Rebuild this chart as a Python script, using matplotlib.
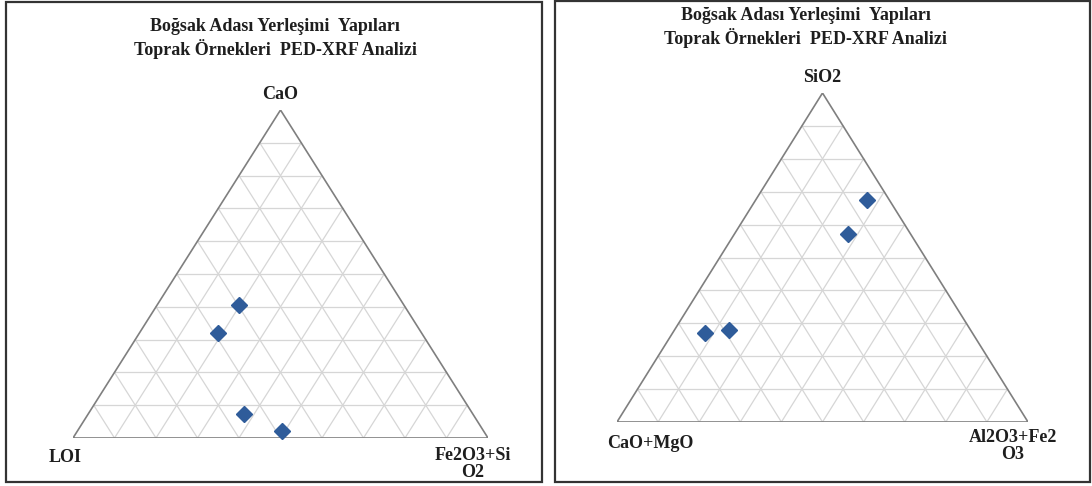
import matplotlib.pyplot as plt
from matplotlib.patches import Rectangle

# sol panel: CaO - LOI - Fe2O3+SiO2 (%)
sol_cao = [40.5, 32.0, 7.3, 2.1]
sol_fs = [19.8, 18.9, 37.5, 49.3]
sol_loi = [39.7, 49.1, 55.2, 48.6]

# sag panel: SiO2 - CaO+MgO - Al2O3+Fe2O3 (%)
sag_sio2 = [67.5, 57.1, 27.0, 28.0]
sag_af = [27.0, 27.6, 8.0, 13.2]
sag_cm = [5.5, 15.3, 65.0, 58.8]

baslik = "Boğsak Adası Yerleşimi  Yapıları\nToprak Örnekleri  PED-XRF Analizi"

W, H = 1092, 486
fig = plt.figure(figsize=(W / 100, H / 100), dpi=100)
fig.patch.set_facecolor("white")

yazi = dict(family="Liberation Serif", fontweight="bold", color="#1e1e1e")
mavi = "#2F5C9A"
fs = 13


def ternary(ust, sag):
    # ust: tepe bileseni, sag: sag alt kose bileseni (0-100)
    x = [(s + u / 2) / 100 for u, s in zip(ust, sag)]
    y = [u / 100 for u in ust]
    return x, y


def ucgen_ciz(ax):
    for i in range(1, 10):
        t = i / 10
        kw = dict(color="#d6d6d6", lw=0.9, zorder=1)
        ax.plot([t / 2, 1 - t / 2], [t, t], **kw)
        ax.plot([t, t + (1 - t) / 2], [0, 1 - t], **kw)
        ax.plot([1 - t, (1 - t) / 2], [0, 1 - t], **kw)
    ax.plot([0, 1, 0.5, 0], [0, 0, 1, 0], color="#7f7f7f", lw=1.2, zorder=2)
    ax.set_xlim(0, 1)
    ax.set_ylim(0, 1)
    ax.axis("off")


def eksen(px):
    # px: ucgen sinirlari piksel olarak (sol, ust, sag, alt)
    l, t, r, b = px
    return fig.add_axes([l / W, (H - b) / H, (r - l) / W, (b - t) / H])


# cerceveler
arka = fig.add_axes([0, 0, 1, 1])
arka.set_xlim(0, W)
arka.set_ylim(H, 0)
arka.axis("off")
arka.add_patch(Rectangle((6, 2), 536, 480, fill=False, ec="#333333", lw=1.6))
arka.add_patch(Rectangle((555, 1), 535, 481, fill=False, ec="#333333", lw=1.6))

# sol grafik
ax1 = eksen((73, 110, 488, 438))
ucgen_ciz(ax1)
x, y = ternary(sol_cao, sol_fs)
ax1.plot(x, y, ls="none", marker="D", ms=8.5, color=mavi, zorder=3, clip_on=False)
fig.text(275 / W, 1 - 38.5 / H, baslik, ha="center", va="center", fontsize=fs,
         linespacing=1.2, **yazi)
ax1.text(0.5, 1.046, "CaO", ha="center", va="center", fontsize=fs, **yazi)
ax1.text(-0.02, -0.058, "LOI", ha="center", va="center", fontsize=fs, **yazi)
ax1.text(0.964, -0.08, "Fe2O3+Si\nO2", ha="center", va="center", fontsize=fs,
         linespacing=1.0, **yazi)

# sag grafik
ax2 = eksen((617, 93, 1028, 422))
ucgen_ciz(ax2)
x, y = ternary(sag_sio2, sag_af)
ax2.plot(x, y, ls="none", marker="D", ms=8.5, color=mavi, zorder=3, clip_on=False)
fig.text(806 / W, 1 - 27.5 / H, baslik, ha="center", va="center", fontsize=fs,
         linespacing=1.2, **yazi)
ax2.text(0.5, 1.046, "SiO2", ha="center", va="center", fontsize=fs, **yazi)
ax2.text(0.08, -0.064, "CaO+MgO", ha="center", va="center", fontsize=fs, **yazi)
ax2.text(0.963, -0.072, "Al2O3+Fe2\nO3", ha="center", va="center", fontsize=fs,
         linespacing=1.0, **yazi)

fig.savefig("out.png", dpi=100)
